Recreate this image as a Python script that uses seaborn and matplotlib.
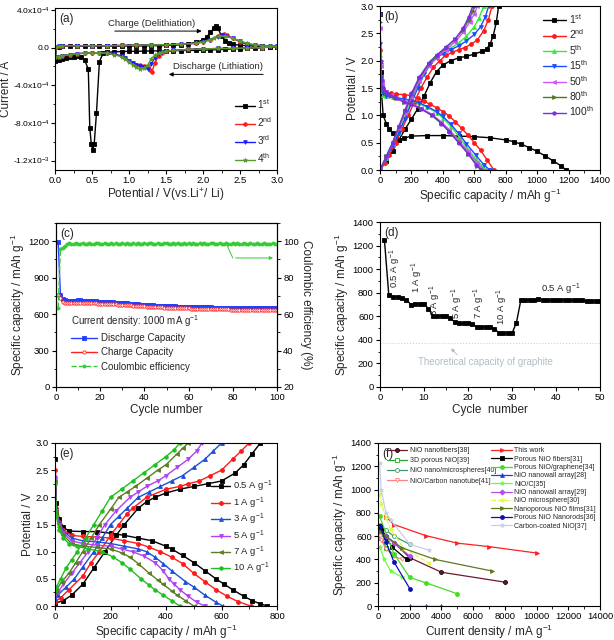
import numpy as np
import matplotlib
matplotlib.use("Agg")
import matplotlib.pyplot as plt
from matplotlib.ticker import AutoMinorLocator
import seaborn as sns

# ---------------- DATA ----------------
# (a) CV curves, potential (V) and current (1e-4 A)
a1_pot = [3.0, 2.9, 2.8, 2.7, 2.6, 2.5, 2.4, 2.3, 2.2, 2.1, 2.0, 1.9, 1.8, 1.7, 1.6, 1.5, 1.4, 1.3, 1.2, 1.1,
          1.0, 0.9, 0.8, 0.7, 0.65, 0.6, 0.56, 0.53, 0.51, 0.49, 0.47, 0.45, 0.4, 0.35, 0.3, 0.25, 0.2, 0.15,
          0.1, 0.05, 0.0,
          0.02, 0.05, 0.1, 0.2, 0.3, 0.4, 0.5, 0.6, 0.7, 0.8, 0.9, 1.0, 1.1, 1.2, 1.3, 1.4, 1.5, 1.6, 1.7, 1.8,
          1.9, 2.0, 2.05, 2.1, 2.15, 2.18, 2.2, 2.25, 2.3, 2.35, 2.4, 2.5, 2.6, 2.7, 2.8, 2.9, 3.0]
a1_cur = [0.1, 0.05, 0.0, -0.05, -0.1, -0.12, -0.15, -0.2, -0.22, -0.25, -0.28, -0.3, -0.3, -0.32, -0.33,
          -0.35, -0.35, -0.36, -0.38, -0.4, -0.4, -0.42, -0.45, -0.5, -0.6, -1.5, -7.0, -10.2, -10.9, -10.2,
          -8.5, -2.3, -1.3, -1.0, -0.9, -0.95, -1.05, -1.15, -1.25, -1.35, -1.45,
          0.05, 0.1, 0.15, 0.15, 0.15, 0.15, 0.15, 0.15, 0.15, 0.15, 0.15, 0.17, 0.17, 0.18, 0.2, 0.2, 0.22,
          0.25, 0.3, 0.4, 0.55, 0.8, 1.1, 1.6, 2.1, 2.3, 2.1, 1.2, 0.7, 0.45, 0.35, 0.25, 0.2, 0.15, 0.12,
          0.1, 0.1]
a2_pot = [3.0, 2.8, 2.6, 2.4, 2.2, 2.0, 1.8, 1.6, 1.5, 1.45, 1.4, 1.35, 1.31, 1.28, 1.25, 1.2, 1.15, 1.1,
          1.05, 1.0, 0.95, 0.9, 0.8, 0.7, 0.6, 0.5, 0.4, 0.3, 0.2, 0.1, 0.05, 0.0,
          0.02, 0.05, 0.1, 0.3, 0.5, 0.7, 0.9, 1.1, 1.3, 1.5, 1.7, 1.9, 2.0, 2.1, 2.2, 2.25, 2.28, 2.32,
          2.4, 2.5, 2.6, 2.7, 2.8, 2.9, 3.0]
a2_cur = [0.1, 0.0, -0.05, -0.1, -0.1, -0.15, -0.2, -0.3, -0.4, -0.6, -0.9, -1.6, -2.6, -2.4, -2.1, -2.0,
          -1.9, -1.8, -1.6, -1.4, -1.1, -0.9, -0.7, -0.6, -0.55, -0.55, -0.6, -0.65, -0.75, -0.85, -0.95,
          -1.05,
          0.05, 0.15, 0.2, 0.2, 0.2, 0.2, 0.22, 0.25, 0.28, 0.3, 0.35, 0.45, 0.6, 0.85, 1.2, 1.35, 1.4, 1.3,
          1.0, 0.6, 0.35, 0.25, 0.2, 0.15, 0.15]
a3_pot = [3.0, 2.8, 2.6, 2.4, 2.2, 2.0, 1.8, 1.6, 1.5, 1.45, 1.4, 1.35, 1.3, 1.25, 1.2, 1.15, 1.1, 1.05,
          1.0, 0.95, 0.9, 0.8, 0.7, 0.6, 0.5, 0.4, 0.3, 0.2, 0.1, 0.05, 0.0,
          0.02, 0.05, 0.1, 0.3, 0.5, 0.7, 0.9, 1.1, 1.3, 1.5, 1.7, 1.9, 2.0, 2.1, 2.2, 2.25, 2.3, 2.4, 2.5,
          2.6, 2.7, 2.8, 2.9, 3.0]
a3_cur = [0.1, 0.0, -0.05, -0.1, -0.1, -0.15, -0.2, -0.3, -0.4, -0.5, -0.7, -1.1, -1.7, -2.3, -2.1, -1.95,
          -1.8, -1.6, -1.4, -1.1, -0.9, -0.7, -0.6, -0.55, -0.55, -0.6, -0.65, -0.75, -0.85, -0.95, -1.05,
          0.05, 0.15, 0.2, 0.2, 0.2, 0.2, 0.22, 0.25, 0.28, 0.3, 0.35, 0.45, 0.6, 0.85, 1.15, 1.3, 1.25, 1.0,
          0.65, 0.38, 0.25, 0.2, 0.15, 0.15]
a4_pot = [3.0, 2.8, 2.6, 2.4, 2.2, 2.0, 1.8, 1.6, 1.5, 1.45, 1.4, 1.35, 1.3, 1.25, 1.2, 1.15, 1.1, 1.05,
          1.0, 0.95, 0.9, 0.8, 0.7, 0.6, 0.5, 0.4, 0.3, 0.2, 0.1, 0.05, 0.0,
          0.02, 0.05, 0.1, 0.3, 0.5, 0.7, 0.9, 1.1, 1.3, 1.5, 1.7, 1.9, 2.0, 2.1, 2.15, 2.22, 2.3, 2.4, 2.5,
          2.6, 2.7, 2.8, 2.9, 3.0]
a4_cur = [0.1, 0.0, -0.05, -0.1, -0.1, -0.15, -0.2, -0.3, -0.4, -0.5, -0.6, -0.8, -1.2, -1.9, -2.2, -2.3,
          -2.1, -1.8, -1.5, -1.2, -1.0, -0.75, -0.6, -0.55, -0.55, -0.6, -0.65, -0.75, -0.85, -0.95, -1.05,
          0.05, 0.15, 0.2, 0.2, 0.2, 0.2, 0.22, 0.25, 0.28, 0.3, 0.35, 0.45, 0.6, 0.85, 1.0, 1.25, 1.2, 1.0,
          0.7, 0.45, 0.3, 0.2, 0.15, 0.12]
a_labels = ["1$^{st}$", "2$^{nd}$", "3$^{rd}$", "4$^{th}$"]
a_yticks = [-1.2e-3, -8e-4, -4e-4, 0.0, 4e-4]
a_yticklabels = ["-1.2x10$^{-3}$", "-8.0x10$^{-4}$", "-4.0x10$^{-4}$", "0.0", "4.0x10$^{-4}$"]

# (b) charge/discharge profiles (capacity mAh/g, potential V)
b1_dis_c = [0, 5, 10, 20, 40, 60, 80, 100, 120, 150, 200, 300, 400, 500, 600, 700, 800, 850, 900, 950,
            1000, 1050, 1100, 1150, 1185]
b1_dis_v = [2.85, 1.8, 1.4, 1.0, 0.85, 0.75, 0.67, 0.6, 0.55, 0.58, 0.62, 0.63, 0.63, 0.62, 0.61, 0.59,
            0.55, 0.52, 0.47, 0.41, 0.34, 0.26, 0.17, 0.08, 0.0]
b1_chg_c = [0, 40, 80, 120, 160, 200, 240, 280, 320, 360, 400, 450, 500, 550, 600, 650, 680, 700, 720, 740, 755]
b1_chg_v = [0.0, 0.17, 0.35, 0.55, 0.75, 0.93, 1.12, 1.35, 1.6, 1.8, 1.92, 2.0, 2.05, 2.08, 2.12, 2.17,
            2.22, 2.3, 2.45, 2.7, 3.0]
b2_dis_c = [0, 5, 10, 20, 40, 70, 100, 150, 200, 240, 280, 320, 360, 400, 440, 480, 520, 560, 600, 640, 680, 725]
b2_dis_v = [2.2, 1.7, 1.55, 1.46, 1.42, 1.4, 1.39, 1.38, 1.36, 1.31, 1.26, 1.2, 1.14, 1.07, 0.99, 0.88,
            0.76, 0.64, 0.5, 0.36, 0.19, 0.0]
b2_chg_c = [0, 30, 60, 100, 140, 180, 220, 260, 300, 340, 380, 420, 460, 500, 540, 580, 620, 660, 690, 712]
b2_chg_v = [0.0, 0.12, 0.28, 0.5, 0.75, 1.0, 1.25, 1.5, 1.7, 1.88, 2.0, 2.1, 2.15, 2.2, 2.24, 2.3, 2.38,
            2.55, 2.75, 3.0]
b5_dis_c = [0, 5, 10, 20, 40, 80, 150, 200, 250, 300, 360, 400, 450, 500, 550, 610, 650, 682]
b5_dis_v = [2.1, 1.6, 1.45, 1.38, 1.35, 1.33, 1.3, 1.27, 1.22, 1.15, 1.05, 0.95, 0.8, 0.62, 0.42, 0.2, 0.08, 0.0]
b5_chg_c = [0, 40, 80, 120, 160, 200, 240, 280, 320, 360, 400, 450, 500, 550, 600, 630, 660]
b5_chg_v = [0.0, 0.22, 0.45, 0.7, 0.97, 1.27, 1.57, 1.82, 1.99, 2.1, 2.17, 2.23, 2.32, 2.45, 2.62, 2.78, 3.0]
b15_dis_c = [0, 5, 10, 20, 40, 80, 150, 200, 250, 300, 360, 400, 450, 500, 550, 610, 660, 698]
b15_dis_v = [2.3, 1.7, 1.5, 1.4, 1.36, 1.33, 1.3, 1.27, 1.23, 1.16, 1.07, 0.98, 0.84, 0.67, 0.48, 0.27, 0.1, 0.0]
b15_chg_c = [0, 40, 80, 120, 160, 200, 240, 280, 320, 360, 400, 450, 500, 550, 600, 640, 670, 692]
b15_chg_v = [0.0, 0.22, 0.44, 0.68, 0.94, 1.22, 1.5, 1.75, 1.93, 2.05, 2.13, 2.2, 2.27, 2.36, 2.48, 2.62, 2.8, 3.0]
b50_dis_c = [0, 5, 10, 20, 40, 70, 100, 150, 200, 260, 330, 390, 440, 500, 560, 620, 665]
b50_dis_v = [2.6, 1.9, 1.6, 1.48, 1.42, 1.37, 1.32, 1.26, 1.21, 1.13, 1.02, 0.88, 0.74, 0.55, 0.34, 0.13, 0.0]
b50_chg_c = [0, 40, 80, 120, 160, 200, 250, 310, 360, 420, 480, 530, 570, 600, 620]
b50_chg_v = [0.0, 0.24, 0.48, 0.76, 1.05, 1.33, 1.63, 1.9, 2.06, 2.2, 2.35, 2.52, 2.7, 2.85, 3.0]
b80_dis_c = [0, 5, 10, 20, 40, 70, 100, 150, 200, 260, 330, 390, 440, 500, 560, 620, 652]
b80_dis_v = [2.7, 1.95, 1.62, 1.48, 1.42, 1.36, 1.31, 1.25, 1.2, 1.12, 1.0, 0.86, 0.71, 0.51, 0.3, 0.08, 0.0]
b80_chg_c = [0, 40, 80, 120, 160, 200, 250, 310, 360, 420, 480, 530, 565, 590, 605]
b80_chg_v = [0.0, 0.25, 0.5, 0.78, 1.08, 1.37, 1.68, 1.94, 2.09, 2.24, 2.4, 2.57, 2.75, 2.9, 3.0]
b100_dis_c = [0, 5, 10, 20, 40, 60, 100, 150, 200, 260, 330, 390, 440, 500, 560, 610, 640]
b100_dis_v = [2.85, 2.0, 1.65, 1.5, 1.42, 1.38, 1.32, 1.25, 1.2, 1.12, 1.0, 0.85, 0.7, 0.5, 0.3, 0.1, 0.0]
b100_chg_c = [0, 40, 80, 120, 160, 200, 250, 310, 360, 420, 480, 530, 565, 590]
b100_chg_v = [0.0, 0.25, 0.5, 0.8, 1.1, 1.4, 1.7, 1.95, 2.1, 2.25, 2.4, 2.6, 2.8, 3.0]
b_labels = ["1$^{st}$", "2$^{nd}$", "5$^{th}$", "15$^{th}$", "50$^{th}$", "80$^{th}$", "100$^{th}$"]

# (c) cycling at 1000 mA/g
c_cycle = list(range(1, 101))
c_discharge = [1190, 760, 725, 715, 712, 710, 712, 710, 712, 714,
               713, 712, 710, 708, 709, 706, 705, 704, 703, 702,
               701, 700, 700, 699, 697, 696, 695, 694, 692, 691,
               690, 688, 687, 686, 684, 683, 680, 678, 676, 675,
               674, 673, 672, 671, 670, 669, 668, 667, 666, 666,
               665, 664, 663, 663, 662, 662, 661, 661, 660, 660,
               659, 659, 658, 658, 657, 657, 656, 656, 655, 655,
               654, 654, 653, 653, 652, 652, 652, 651, 651, 651,
               650, 651, 650, 650, 651, 650, 650, 651, 650, 650,
               650, 651, 650, 651, 650, 650, 651, 650, 650, 651]
c_charge = [755, 730, 700, 690, 688, 690, 692, 693, 694, 695,
            694, 693, 692, 691, 690, 689, 688, 688, 687, 686,
            686, 685, 684, 683, 682, 681, 680, 679, 678, 677,
            676, 675, 673, 672, 670, 668, 666, 665, 664, 663,
            662, 661, 660, 659, 658, 657, 656, 655, 654, 654,
            653, 652, 651, 650, 650, 649, 648, 648, 647, 647,
            646, 645, 645, 644, 644, 643, 643, 642, 642, 641,
            641, 640, 640, 639, 639, 638, 638, 638, 637, 637,
            637, 636, 637, 636, 636, 637, 636, 636, 637, 636,
            636, 637, 636, 636, 637, 636, 636, 637, 636, 636]
c_ce = [63.5, 96.0, 96.5, 97.5, 98.5, 98.8, 98.4, 98.6, 98.9, 98.5,
        98.7, 98.9, 98.4, 98.6, 99.0, 98.5, 98.3, 98.8, 99.1, 98.6,
        98.4, 98.9, 98.7, 98.5, 99.0, 98.6, 98.8, 98.4, 98.7, 99.1,
        98.5, 98.8, 98.6, 98.3, 98.9, 98.7, 99.0, 98.5, 98.6, 98.9,
        98.4, 98.8, 99.1, 98.6, 98.5, 98.9, 98.7, 98.4, 98.8, 99.0,
        98.6, 98.5, 98.9, 98.7, 99.2, 98.5, 98.6, 98.9, 98.4, 98.8,
        98.7, 99.0, 98.5, 98.6, 98.9, 98.7, 99.2, 98.6, 98.4, 98.8,
        98.9, 98.5, 98.7, 99.0, 98.6, 98.4, 98.8, 98.7, 98.5, 98.9,
        98.6, 98.8, 98.4, 98.7, 99.0, 98.5, 98.6, 98.9, 98.3, 98.7,
        98.8, 98.5, 98.6, 98.9, 98.4, 98.7, 98.5, 98.8, 98.6, 98.7]

# (d) rate capability
d_cycle = list(range(1, 51))
d_capacity = [1250, 780, 765, 760, 755, 740, 700, 705, 705, 705,
              665, 605, 605, 600, 600, 585, 550, 540, 540, 540,
              535, 510, 510, 510, 510, 495, 460, 455, 455, 455,
              545, 735, 740, 740, 740, 745, 740, 740, 735, 740,
              738, 738, 736, 736, 735, 735, 730, 730, 730, 730]
d_graphite = 372
d_rate_labels = ["0.5 A g$^{-1}$", "1 A g$^{-1}$", "3 A g$^{-1}$", "5 A g$^{-1}$", "7 A g$^{-1}$", "10 A g$^{-1}$"]

# (e) profiles at different rates
e_labels = ["0.5 A g$^{-1}$", "1 A g$^{-1}$", "3 A g$^{-1}$", "5 A g$^{-1}$", "7 A g$^{-1}$", "10 A g$^{-1}$"]
e05_dis_c = [0, 5, 15, 30, 50, 100, 150, 200, 250, 300, 350, 400, 420, 460, 500, 540, 580, 610, 640, 680, 710, 740, 765]
e05_dis_v = [2.7, 1.9, 1.6, 1.45, 1.38, 1.37, 1.37, 1.34, 1.3, 1.25, 1.2, 1.1, 1.05, 0.93, 0.8, 0.65, 0.5, 0.4, 0.3, 0.18, 0.1, 0.04, 0.0]
e05_chg_c = [0, 30, 60, 100, 140, 180, 220, 250, 300, 330, 360, 400, 450, 500, 550, 600, 650, 680, 710, 740]
e05_chg_v = [0.05, 0.1, 0.2, 0.4, 0.7, 1.0, 1.3, 1.5, 1.8, 1.92, 2.0, 2.08, 2.15, 2.2, 2.25, 2.3, 2.45, 2.6, 2.8, 3.0]
e1_dis_c = [0, 5, 15, 30, 60, 100, 150, 200, 250, 300, 340, 380, 420, 460, 500, 540, 580, 620, 660, 705]
e1_dis_v = [2.5, 1.8, 1.55, 1.4, 1.3, 1.28, 1.27, 1.25, 1.2, 1.15, 1.08, 1.0, 0.9, 0.78, 0.6, 0.45, 0.3, 0.18, 0.08, 0.0]
e1_chg_c = [0, 20, 50, 100, 130, 160, 200, 230, 260, 280, 330, 400, 450, 480, 520, 560, 600, 640, 670, 700]
e1_chg_v = [0.08, 0.15, 0.3, 0.55, 0.8, 1.0, 1.3, 1.5, 1.7, 1.8, 2.0, 2.15, 2.2, 2.25, 2.3, 2.4, 2.5, 2.7, 2.85, 3.0]
e3_dis_c = [0, 5, 15, 30, 60, 100, 150, 200, 250, 300, 330, 360, 390, 420, 470, 500, 540, 580, 605]
e3_dis_v = [2.4, 1.8, 1.55, 1.38, 1.25, 1.2, 1.18, 1.15, 1.1, 1.05, 1.0, 0.9, 0.78, 0.65, 0.45, 0.35, 0.2, 0.07, 0.0]
e3_chg_c = [0, 10, 40, 70, 100, 140, 170, 200, 230, 260, 300, 340, 380, 420, 460, 500, 540, 570, 600]
e3_chg_v = [0.15, 0.2, 0.35, 0.5, 0.72, 1.0, 1.25, 1.5, 1.65, 1.8, 2.0, 2.1, 2.2, 2.3, 2.4, 2.55, 2.7, 2.85, 3.0]
e5_dis_c = [0, 5, 15, 30, 60, 100, 150, 200, 240, 280, 320, 360, 390, 410, 430, 450, 480, 510, 540]
e5_dis_v = [2.35, 1.75, 1.5, 1.35, 1.2, 1.15, 1.12, 1.1, 1.05, 1.0, 0.92, 0.8, 0.65, 0.5, 0.4, 0.3, 0.18, 0.07, 0.0]
e5_chg_c = [0, 10, 30, 60, 90, 120, 150, 180, 220, 270, 300, 330, 370, 400, 440, 480, 510, 530]
e5_chg_v = [0.2, 0.25, 0.4, 0.6, 0.8, 1.0, 1.25, 1.5, 1.75, 2.0, 2.1, 2.2, 2.3, 2.4, 2.55, 2.7, 2.85, 3.0]
e7_dis_c = [0, 5, 15, 30, 60, 100, 150, 200, 240, 270, 300, 340, 370, 390, 420, 440, 470, 500]
e7_dis_v = [2.3, 1.7, 1.45, 1.3, 1.15, 1.1, 1.08, 1.05, 0.98, 0.9, 0.78, 0.6, 0.48, 0.4, 0.28, 0.2, 0.1, 0.0]
e7_chg_c = [0, 5, 25, 50, 75, 100, 130, 160, 200, 230, 260, 290, 330, 370, 400, 440, 460, 480]
e7_chg_v = [0.25, 0.3, 0.45, 0.6, 0.8, 1.0, 1.25, 1.5, 1.78, 2.0, 2.1, 2.2, 2.35, 2.5, 2.6, 2.8, 2.9, 3.0]
e10_dis_c = [0, 5, 15, 30, 50, 80, 120, 170, 210, 240, 270, 310, 340, 360, 390, 420, 450]
e10_dis_v = [2.25, 1.65, 1.4, 1.25, 1.15, 1.1, 1.05, 1.0, 0.9, 0.8, 0.68, 0.5, 0.38, 0.3, 0.2, 0.1, 0.0]
e10_chg_c = [0, 5, 20, 40, 60, 80, 110, 140, 170, 200, 240, 280, 320, 360, 400, 430, 450]
e10_chg_v = [0.3, 0.35, 0.5, 0.7, 0.85, 1.0, 1.25, 1.5, 1.75, 2.0, 2.15, 2.3, 2.45, 2.6, 2.75, 2.88, 3.0]

# (f) literature comparison (current density mA/g, capacity mAh/g)
f_nanofibers38_x = [100, 200, 500, 1000, 2000, 4000, 8000]
f_nanofibers38_y = [680, 665, 600, 545, 415, 290, 205]
f_porous39_x = [100, 200, 500, 1000]
f_porous39_y = [610, 580, 500, 440]
f_spheres40_x = [100, 500, 1000, 2000]
f_spheres40_y = [700, 650, 600, 530]
f_cnt41_x = [100, 200, 500, 1000, 1500]
f_cnt41_y = [600, 570, 490, 430, 400]
f_thiswork_x = [500, 1000, 3000, 5000, 7000, 10000]
f_thiswork_y = [765, 700, 605, 540, 510, 455]
f_fibers31_x = [100, 200, 500, 900, 1800]
f_fibers31_y = [690, 660, 590, 505, 400]
f_graphene34_x = [100, 1000, 2000, 3000, 5000]
f_graphene34_y = [770, 450, 245, 200, 105]
f_nanowall28_x = [2000, 3000, 4000]
f_nanowall28_y = [0, 0, 0]
f_nioc35_x = [100, 400, 800, 1500]
f_nioc35_y = [510, 400, 300, 250]
f_nanowall29_x = [500, 1000, 2000]
f_nanowall29_y = [600, 540, 430]
f_micro30_x = [100, 200, 500, 800, 1600, 3200]
f_micro30_y = [960, 880, 760, 660, 500, 370]
f_films31_x = [100, 500, 1500, 3600, 7200]
f_films31_y = [640, 600, 500, 400, 300]
f_rods36_x = [100, 500, 1000, 2000]
f_rods36_y = [690, 550, 380, 150]
f_coated37_x = [100, 200, 500, 800, 2000, 3200]
f_coated37_y = [1230, 1000, 800, 740, 530, 480]

# ---------------- STYLE ----------------
sns.set_style("ticks")
plt.rcParams["font.family"] = ["Liberation Sans", "DejaVu Sans"]
plt.rcParams["mathtext.fontset"] = "custom"
plt.rcParams["mathtext.rm"] = "Liberation Sans"
plt.rcParams["mathtext.it"] = "Liberation Sans:italic"
plt.rcParams["mathtext.default"] = "regular"
plt.rcParams["axes.linewidth"] = 0.8
plt.rcParams["xtick.major.width"] = 0.8
plt.rcParams["ytick.major.width"] = 0.8
plt.rcParams["xtick.major.size"] = 3
plt.rcParams["ytick.major.size"] = 3
plt.rcParams["xtick.minor.size"] = 1.8
plt.rcParams["ytick.minor.size"] = 1.8
plt.rcParams["xtick.color"] = "black"
plt.rcParams["ytick.color"] = "black"
plt.rcParams["axes.edgecolor"] = "black"

LAB = 8.5
TICK = 6.8

fig = plt.figure(figsize=(6.14, 6.4), dpi=100)
W, H = 614.0, 640.0


def box(l, t, r, b):
    return [l / W, 1 - b / H, (r - l) / W, (b - t) / H]


def line(ax, x, y, color, marker, label=None, ls="-", mfc=None, ms=3.0, lw=0.9, mec=None):
    sns.lineplot(x=np.asarray(x, float), y=np.asarray(y, float), ax=ax, sort=False, estimator=None,
                 color=color, marker=marker, markersize=ms,
                 markerfacecolor=(mfc if mfc is not None else color),
                 markeredgecolor=(mec if mec is not None else color), markeredgewidth=0.6,
                 linewidth=lw, linestyle=ls)
    ln = ax.lines[-1]
    if label is not None:
        ln.set_label(label)
    return ln


def style(ax, letter):
    for s in ax.spines.values():
        s.set_visible(True)
        s.set_color("black")
    ax.tick_params(labelsize=TICK, direction="out", pad=1.5)
    ax.xaxis.set_minor_locator(AutoMinorLocator(2))
    ax.yaxis.set_minor_locator(AutoMinorLocator(2))
    ax.text(0.02, 0.97, letter, transform=ax.transAxes, fontsize=8.5, va="top", ha="left")


# ---------------- (a) ----------------
axa = fig.add_axes(box(55, 8, 277, 170))
cols_a = ["#000000", "#ff1a1a", "#1a1aff", "#5a9a2a"]
marks_a = ["s", "o", "v", "*"]
cv = [(a1_pot, a1_cur), (a2_pot, a2_cur), (a3_pot, a3_cur), (a4_pot, a4_cur)]
handles_a = []
for (p, c), col, mk, lab in zip(cv, cols_a, marks_a, a_labels):
    h = line(axa, p, np.asarray(c) * 1e-4, col, mk, label=lab, ms=3.2 if mk == "*" else 2.6, lw=1.0)
    handles_a.append(h)
axa.set_xlim(0, 3.0)
axa.set_ylim(-1.3e-3, 4.2e-4)
axa.set_xticks([0, 0.5, 1.0, 1.5, 2.0, 2.5, 3.0])
axa.set_xticklabels(["0.0", "0.5", "1.0", "1.5", "2.0", "2.5", "3.0"])
axa.set_yticks(a_yticks)
axa.set_yticklabels(a_yticklabels)
axa.set_xlabel("Potential / V(vs.Li$^{+}$/ Li)", fontsize=LAB, labelpad=1)
axa.set_ylabel("Current / A", fontsize=LAB, labelpad=0.5)
style(axa, "(a)")
axa.tick_params(axis="y", labelsize=6.0, pad=1)
axa.legend(handles=handles_a, loc="lower right", bbox_to_anchor=(1.0, 0.0), frameon=False, fontsize=7.2,
           handlelength=2.0, labelspacing=0.42, borderaxespad=0.1, handletextpad=0.25)
axa.text(1.3, 2.55e-4, "Charge (Delithiation)", fontsize=6.8, ha="center", va="center")
axa.annotate("", xy=(2.02, 1.75e-4), xytext=(0.77, 1.75e-4),
             arrowprops=dict(arrowstyle="-|>", color="black", lw=0.7, mutation_scale=6))
axa.text(2.2, -1.97e-4, "Discharge (Lithiation)", fontsize=6.8, ha="center", va="center")
axa.annotate("", xy=(1.5, -2.85e-4), xytext=(2.85, -2.85e-4),
             arrowprops=dict(arrowstyle="-|>", color="black", lw=0.7, mutation_scale=6))

# ---------------- (b) ----------------
axb = fig.add_axes(box(380, 6, 600, 170))
b_series = [
    (b1_dis_c, b1_dis_v, b1_chg_c, b1_chg_v, "#000000", "s"),
    (b2_dis_c, b2_dis_v, b2_chg_c, b2_chg_v, "#ff1a1a", "o"),
    (b5_dis_c, b5_dis_v, b5_chg_c, b5_chg_v, "#33ee33", "^"),
    (b15_dis_c, b15_dis_v, b15_chg_c, b15_chg_v, "#1a4dff", "v"),
    (b50_dis_c, b50_dis_v, b50_chg_c, b50_chg_v, "#cc55ff", "<"),
    (b80_dis_c, b80_dis_v, b80_chg_c, b80_chg_v, "#4b7a1f", ">"),
    (b100_dis_c, b100_dis_v, b100_chg_c, b100_chg_v, "#7a2ee0", "p"),
]
handles_b = []
for (dc, dv, cc, cvv, col, mk), lab in zip(b_series, b_labels):
    h = line(axb, dc, dv, col, mk, label=lab, ms=2.8, lw=1.0)
    line(axb, cc, cvv, col, mk, ms=2.8, lw=1.0)
    handles_b.append(h)
axb.set_xlim(0, 1400)
axb.set_ylim(0, 3.0)
axb.set_xticks(range(0, 1401, 200))
axb.set_yticks([0, 0.5, 1.0, 1.5, 2.0, 2.5, 3.0])
axb.set_yticklabels(["0.0", "0.5", "1.0", "1.5", "2.0", "2.5", "3.0"])
axb.set_xlabel("Specific capacity / mAh g$^{-1}$", fontsize=LAB, labelpad=1)
axb.set_ylabel("Potential / V", fontsize=LAB, labelpad=1)
style(axb, "(b)")
axb.legend(handles=handles_b, loc="upper right", frameon=False, fontsize=7.5, handlelength=2.2,
           labelspacing=0.15, borderaxespad=0.2, handletextpad=0.3)

# ---------------- (c) ----------------
axc = fig.add_axes(box(56, 223, 277, 387))
axc2 = axc.twinx()
hd = line(axc, c_cycle, c_discharge, "#1f3fff", "s", label="Discharge Capacity", ms=2.2, lw=1.0)
hc = line(axc, c_cycle, c_charge, "#ff2020", "o", label="Charge Capacity", mfc="white", ms=2.4, lw=1.0)
he = line(axc2, c_cycle, c_ce, "#33cc33", "o", label="Coulombic efficiency", ls="--", ms=2.2, lw=1.0)
axc.set_xlim(0, 100)
axc.set_ylim(0, 1350)
axc2.set_ylim(20, 110)
axc.set_xticks(range(0, 101, 20))
axc.set_yticks(range(0, 1201, 300))
axc2.set_yticks(range(20, 101, 20))
axc.set_xlabel("Cycle number", fontsize=LAB, labelpad=1)
axc.set_ylabel("Specific capacity / mAh g$^{-1}$", fontsize=LAB, labelpad=1)
axc2.set_ylabel("Coulombic efficiency (%)", fontsize=LAB, rotation=270, labelpad=9)
style(axc, "(c)")
axc2.tick_params(labelsize=TICK, direction="out", pad=1.5)
axc2.yaxis.set_minor_locator(AutoMinorLocator(2))
axc2.plot([77, 80], [98.8, 90.8], color="#33cc33", lw=0.7)
axc2.annotate("", xy=(99.5, 90.8), xytext=(80, 90.8),
              arrowprops=dict(arrowstyle="-|>", color="#33cc33", lw=0.7, mutation_scale=5))
legc = axc.legend(handles=[hd, hc, he], loc="lower left", bbox_to_anchor=(0.03, 0.04), frameon=False,
                  fontsize=7, handlelength=2.6, labelspacing=0.45, handletextpad=0.4,
                  title="Current density: 1000 mA g$^{-1}$", title_fontsize=7)
legc._legend_box.align = "left"

# ---------------- (d) ----------------
axd = fig.add_axes(box(380, 222, 600, 387))
line(axd, d_cycle, d_capacity, "#000000", "s", ms=2.6, lw=1.0)
axd.axhline(d_graphite, color="#c8d2d8", lw=0.8, ls=":")
axd.set_xlim(0, 50)
axd.set_ylim(0, 1400)
axd.set_xticks(range(0, 51, 10))
axd.set_yticks(range(0, 1401, 200))
axd.set_xlabel("Cycle  number", fontsize=LAB, labelpad=1)
axd.set_ylabel("Specific capacity / mAh g$^{-1}$", fontsize=LAB, labelpad=1)
style(axd, "(d)")
for (xx, yy), lab in zip([(3.6, 1010), (8.6, 930), (12.6, 740), (17.6, 710), (22.6, 710), (27.8, 680)],
                         d_rate_labels):
    axd.text(xx, yy, lab, rotation=90, fontsize=6.8, ha="center", va="center")
axd.text(41, 830, d_rate_labels[0], fontsize=6.8, ha="center", va="center")
axd.text(24, 213, "Theoretical capacity of graphite", fontsize=7, color="#b0bec6", ha="center", va="center")
axd.annotate("", xy=(15.7, 345), xytext=(18, 255),
             arrowprops=dict(arrowstyle="-|>", color="#b0bec6", lw=0.6, mutation_scale=5))

# ---------------- (e) ----------------
axe = fig.add_axes(box(55, 443, 277, 606))
e_series = [
    (e05_dis_c, e05_dis_v, e05_chg_c, e05_chg_v, "#000000", "s"),
    (e1_dis_c, e1_dis_v, e1_chg_c, e1_chg_v, "#ff1a1a", "o"),
    (e3_dis_c, e3_dis_v, e3_chg_c, e3_chg_v, "#1a4fd8", "^"),
    (e5_dis_c, e5_dis_v, e5_chg_c, e5_chg_v, "#b040f0", "v"),
    (e7_dis_c, e7_dis_v, e7_chg_c, e7_chg_v, "#5b7d23", "<"),
    (e10_dis_c, e10_dis_v, e10_chg_c, e10_chg_v, "#1fbf1f", "h"),
]
handles_e = []
for (dc, dv, cc, cvv, col, mk), lab in zip(e_series, e_labels):
    h = line(axe, dc, dv, col, mk, label=lab, ms=2.8, lw=1.0)
    line(axe, cc, cvv, col, mk, ms=2.8, lw=1.0)
    handles_e.append(h)
axe.set_xlim(0, 800)
axe.set_ylim(0, 3.0)
axe.set_xticks(range(0, 801, 200))
axe.set_yticks([0, 0.5, 1.0, 1.5, 2.0, 2.5, 3.0])
axe.set_yticklabels(["0.0", "0.5", "1.0", "1.5", "2.0", "2.5", "3.0"])
axe.set_xlabel("Specific capacity / mAh g$^{-1}$", fontsize=LAB, labelpad=1)
axe.set_ylabel("Potential / V", fontsize=LAB, labelpad=1)
style(axe, "(e)")
axe.legend(handles=handles_e, loc="center right", bbox_to_anchor=(1.0, 0.48), frameon=False, fontsize=6.8,
           handlelength=2.0, labelspacing=0.12, handletextpad=0.3, borderaxespad=0.1)

# ---------------- (f) ----------------
axf = fig.add_axes(box(378, 443, 600, 606))
fl = []
fl.append(line(axf, f_nanofibers38_x, f_nanofibers38_y, "#6e1a2e", "o", "NiO nanofibers[38]", mec="black", ms=2.8))
fl.append(line(axf, f_porous39_x, f_porous39_y, "#22aa22", "s", "3D porous NiO[39]", mfc="white", ms=2.8))
fl.append(line(axf, f_spheres40_x, f_spheres40_y, "#3a9a6a", "o", "NiO nano/microspheres[40]", mfc="white", ms=2.8))
fl.append(line(axf, f_cnt41_x, f_cnt41_y, "#ff8080", "v", "NiO/Carbon nanotube[41]", mfc="white", ms=2.8))
fr = []
fr.append(line(axf, f_thiswork_x, f_thiswork_y, "#ff2020", ">", "This work", ms=2.8))
fr.append(line(axf, f_fibers31_x, f_fibers31_y, "#000000", "s", "Porous NiO fibers[31]", ms=2.8))
fr.append(line(axf, f_graphene34_x, f_graphene34_y, "#44dd22", "o", "Porous NiO/graphene[34]", ms=2.8))
fr.append(line(axf, f_nanowall28_x, f_nanowall28_y, "#2040e0", "^", "NiO nanowall array[28]", ms=2.8))
fr.append(line(axf, f_nioc35_x, f_nioc35_y, "#66ff44", "*", "NiO/C[35]", ms=3.2))
fr.append(line(axf, f_nanowall29_x, f_nanowall29_y, "#b44cf0", "D", "NiO nanowall array[29]", ms=2.6))
fr.append(line(axf, f_micro30_x, f_micro30_y, "#d8ff44", "*", "NiO microsphere[30]", ls="--", ms=3.2))
fr.append(line(axf, f_films31_x, f_films31_y, "#5b7a1e", ">", "Nanoporous NiO films[31]", ms=2.8))
fr.append(line(axf, f_rods36_x, f_rods36_y, "#1010b0", "o", "Porous NiO Nanorods[36]", ms=2.8))
fr.append(line(axf, f_coated37_x, f_coated37_y, "#c8d0e8", "*", "Carbon-coated NiO[37]", ms=3.2))
axf.set_xlim(0, 14000)
axf.set_ylim(0, 1400)
axf.set_xticks(range(0, 14001, 2000))
axf.set_yticks(range(0, 1401, 200))
axf.set_xlabel("Current density / mA g$^{-1}$", fontsize=LAB, labelpad=1)
axf.set_ylabel("Specific capacity / mAh g$^{-1}$", fontsize=LAB, labelpad=1)
style(axf, "(f)")
leg1 = axf.legend(handles=fl, loc="upper left", bbox_to_anchor=(0.02, 1.0), frameon=False, fontsize=5.0,
                  handlelength=3.0, labelspacing=0.45, handletextpad=0.3, borderaxespad=0.2)
axf.add_artist(leg1)
axf.legend(handles=fr, loc="upper right", bbox_to_anchor=(1.0, 1.0), frameon=False, fontsize=5.0,
           handlelength=3.0, labelspacing=0.2, handletextpad=0.3, borderaxespad=0.2)

fig.savefig("out.png", dpi=100)
